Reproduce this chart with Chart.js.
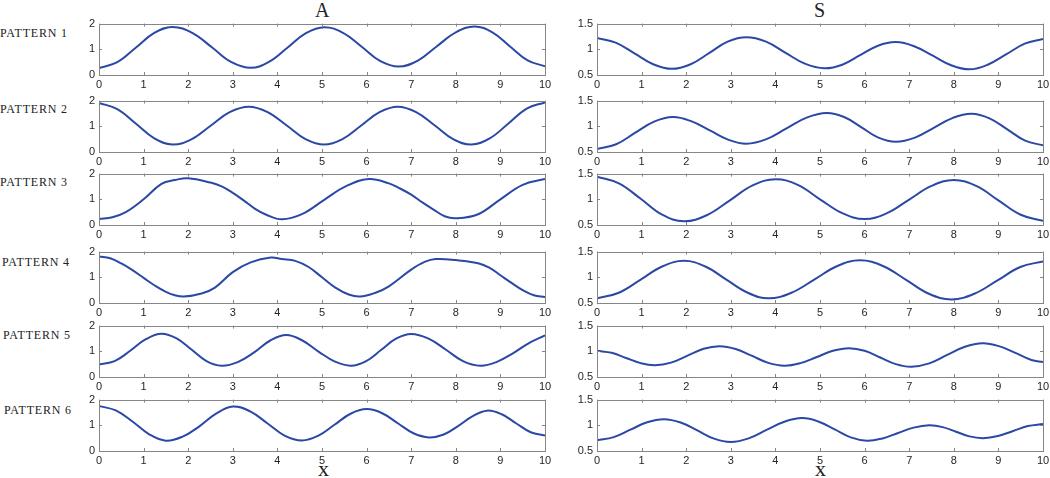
<!DOCTYPE html>
<html lang="en">
<head>
  <meta charset="utf-8" />
  <title>Patterns A and S</title>
  <style>
    body { margin: 0; background: #fff; width: 1050px; height: 478px; position: relative; overflow: hidden; }
    canvas { position: absolute; }
    .lbl { position: absolute; font-family: "Liberation Serif", serif; color: #222; white-space: nowrap; }
    .row { font-size: 12px; line-height: 12px; letter-spacing: 0.8px; }
    .head { font-size: 20px; line-height: 20px; }
    .xlab { font-size: 22px; line-height: 22px; }
  </style>
  <script src="https://cdn.jsdelivr.net/npm/chart.js"></script>
</head>
<body>
  <div class="lbl head" style="left:315px; top:0px;">A</div>
  <div class="lbl head" style="left:814px; top:0px;">S</div>
  <div class="lbl xlab" style="left:318px; top:458px;">x</div>
  <div class="lbl xlab" style="left:815px; top:458px;">x</div>

  <script>
    // x ticks / y ticks for the two columns
    const xTicks = [0, 1, 2, 3, 4, 5, 6, 7, 8, 9, 10];
    const yTicksA = [0, 1, 2];
    const yTicksS = [0.5, 1, 1.5];
    const rowNames = ['PATTERN 1', 'PATTERN 2', 'PATTERN 3', 'PATTERN 4', 'PATTERN 5', 'PATTERN 6'];

    // column A curves
    const A1_x = [0, 0.41, 0.83, 1.24, 1.65, 2.09, 2.53, 2.96, 3.4, 3.81, 4.23, 4.64, 5.05, 5.47, 5.89, 6.3, 6.72, 7.15, 7.57, 8.0, 8.42, 8.82, 9.21, 9.61, 10];
    const A1_y = [0.27, 0.5, 1.07, 1.64, 1.87, 1.64, 1.08, 0.51, 0.28, 0.51, 1.07, 1.63, 1.86, 1.64, 1.1, 0.55, 0.33, 0.56, 1.11, 1.66, 1.89, 1.66, 1.12, 0.57, 0.34];
    const A2_x = [0, 0.41, 0.83, 1.24, 1.65, 2.08, 2.51, 2.93, 3.36, 3.78, 4.21, 4.63, 5.05, 5.46, 5.88, 6.29, 6.7, 7.11, 7.53, 7.94, 8.35, 8.76, 9.18, 9.59, 10];
    const A2_y = [1.91, 1.67, 1.1, 0.53, 0.29, 0.5, 1.03, 1.55, 1.76, 1.55, 1.03, 0.5, 0.29, 0.5, 1.03, 1.55, 1.76, 1.55, 1.03, 0.5, 0.29, 0.53, 1.11, 1.69, 1.93];
    const A3_x = [0, 0.3, 0.6, 1.0, 1.4, 1.7, 2.0, 2.5, 2.75, 3.0, 3.25, 3.5, 3.75, 4.1, 4.55, 5.05, 5.55, 6.05, 6.5, 6.75, 7.0, 7.25, 7.5, 7.75, 8.0, 8.5, 9.0, 9.5, 10];
    const A3_y = [0.23, 0.3, 0.5, 1.0, 1.6, 1.75, 1.82, 1.65, 1.5, 1.25, 0.95, 0.63, 0.4, 0.22, 0.42, 0.98, 1.52, 1.79, 1.62, 1.42, 1.18, 0.88, 0.6, 0.34, 0.26, 0.42, 1.0, 1.56, 1.79];
    const A4_x = [0, 0.25, 0.5, 0.75, 1.0, 1.25, 1.5, 1.7, 1.9, 2.3, 2.6, 3.0, 3.4, 3.85, 4.1, 4.4, 4.7, 5.0, 5.3, 5.6, 5.85, 6.2, 6.5, 7.0, 7.3, 7.55, 8.0, 8.5, 8.75, 9.0, 9.25, 9.5, 9.75, 10];
    const A4_y = [1.81, 1.74, 1.54, 1.28, 0.98, 0.68, 0.43, 0.3, 0.25, 0.37, 0.6, 1.2, 1.58, 1.77, 1.71, 1.64, 1.4, 1.0, 0.6, 0.33, 0.25, 0.4, 0.65, 1.3, 1.6, 1.71, 1.67, 1.55, 1.38, 1.08, 0.78, 0.5, 0.3, 0.23];
    const A5_x = [0, 0.35, 0.7, 1.05, 1.4, 1.74, 2.08, 2.41, 2.75, 3.11, 3.48, 3.84, 4.2, 4.56, 4.93, 5.29, 5.65, 5.99, 6.33, 6.66, 7.0, 7.39, 7.78, 8.16, 8.55, 8.91, 9.28, 9.64, 10];
    const A5_y = [0.49, 0.62, 1.02, 1.47, 1.68, 1.5, 1.06, 0.62, 0.44, 0.58, 0.96, 1.42, 1.63, 1.42, 0.98, 0.6, 0.44, 0.62, 1.06, 1.49, 1.67, 1.49, 1.06, 0.62, 0.44, 0.58, 0.92, 1.32, 1.62];
    const A6_x = [0, 0.375, 0.75, 1.125, 1.5, 1.875, 2.25, 2.625, 3.0, 3.39, 3.78, 4.16, 4.55, 4.91, 5.28, 5.64, 6.0, 6.35, 6.7, 7.05, 7.4, 7.73, 8.05, 8.38, 8.7, 9.03, 9.35, 9.68, 10];
    const A6_y = [1.75, 1.58, 1.15, 0.65, 0.4, 0.56, 0.96, 1.45, 1.73, 1.54, 1.07, 0.6, 0.41, 0.59, 1.02, 1.45, 1.63, 1.47, 1.08, 0.69, 0.53, 0.64, 0.97, 1.36, 1.57, 1.43, 1.08, 0.73, 0.6];

    // column S curves
    const S1_x = [0, 0.42, 0.84, 1.26, 1.68, 2.1, 2.52, 2.93, 3.35, 3.79, 4.23, 4.66, 5.1, 5.5, 5.9, 6.3, 6.7, 7.11, 7.53, 7.94, 8.35, 8.76, 9.18, 9.59, 10];
    const S1_y = [1.22, 1.13, 0.92, 0.71, 0.62, 0.71, 0.93, 1.15, 1.235, 1.15, 0.93, 0.72, 0.63, 0.7, 0.885, 1.07, 1.14, 1.06, 0.875, 0.69, 0.61, 0.7, 0.905, 1.11, 1.2];
    const S2_x = [0, 0.43, 0.85, 1.28, 1.7, 2.11, 2.53, 2.94, 3.35, 3.8, 4.25, 4.7, 5.15, 5.54, 5.93, 6.31, 6.7, 7.13, 7.55, 7.98, 8.4, 8.8, 9.2, 9.6, 10];
    const S2_y = [0.56, 0.65, 0.87, 1.09, 1.18, 1.1, 0.92, 0.74, 0.66, 0.75, 0.96, 1.17, 1.26, 1.18, 0.98, 0.78, 0.7, 0.78, 0.97, 1.165, 1.245, 1.155, 0.94, 0.72, 0.63];
    const S3_x = [0, 0.49, 0.98, 1.46, 1.95, 2.46, 2.98, 3.49, 4.0, 4.5, 5.0, 5.5, 6.0, 6.5, 7.0, 7.5, 8.0, 8.5, 9.0, 9.5, 10];
    const S3_y = [1.44, 1.31, 1.01, 0.7, 0.575, 0.69, 0.98, 1.27, 1.39, 1.28, 1.0, 0.73, 0.615, 0.73, 0.995, 1.26, 1.375, 1.26, 0.98, 0.7, 0.58];
    const S4_x = [0, 0.49, 0.98, 1.46, 1.95, 2.43, 2.9, 3.38, 3.85, 4.36, 4.88, 5.39, 5.9, 6.41, 6.93, 7.44, 7.95, 8.46, 8.98, 9.49, 10];
    const S4_y = [0.59, 0.7, 0.955, 1.21, 1.32, 1.21, 0.955, 0.7, 0.59, 0.7, 0.96, 1.22, 1.33, 1.22, 0.95, 0.68, 0.57, 0.68, 0.94, 1.2, 1.31];
    const S5_x = [0, 0.33, 0.65, 0.98, 1.3, 1.66, 2.03, 2.39, 2.75, 3.11, 3.48, 3.84, 4.2, 4.56, 4.93, 5.29, 5.65, 6.0, 6.35, 6.7, 7.05, 7.45, 7.85, 8.25, 8.65, 9.01, 9.38, 9.74, 10];
    const S5_y = [1.01, 0.97, 0.87, 0.77, 0.73, 0.78, 0.915, 1.05, 1.1, 1.045, 0.91, 0.775, 0.72, 0.77, 0.89, 1.01, 1.06, 1.01, 0.88, 0.75, 0.7, 0.765, 0.93, 1.09, 1.155, 1.1, 0.97, 0.83, 0.79];
    const S6_x = [0, 0.375, 0.75, 1.125, 1.5, 1.875, 2.25, 2.625, 3.0, 3.4, 3.8, 4.2, 4.6, 4.96, 5.33, 5.69, 6.05, 6.4, 6.75, 7.1, 7.45, 7.75, 8.05, 8.35, 8.65, 8.99, 9.33, 9.66, 10];
    const S6_y = [0.71, 0.77, 0.915, 1.06, 1.12, 1.055, 0.9, 0.74, 0.675, 0.745, 0.91, 1.07, 1.14, 1.075, 0.92, 0.765, 0.7, 0.745, 0.85, 0.955, 1.0, 0.965, 0.875, 0.785, 0.75, 0.79, 0.89, 0.985, 1.025];

    const colA = [[A1_x, A1_y], [A2_x, A2_y], [A3_x, A3_y], [A4_x, A4_y], [A5_x, A5_y], [A6_x, A6_y]];
    const colS = [[S1_x, S1_y], [S2_x, S2_y], [S3_x, S3_y], [S4_x, S4_y], [S5_x, S5_y], [S6_x, S6_y]];

    // layout of the grid (plot area in page pixels)
    const rowTops = [21, 98, 171, 249, 323, 397];
    const plotH = 54, plotW = 446;
    const colLeft = [99, 597];
    const rowLabelTop = [27, 103, 176, 256, 329, 404];
    const rowLabelLeft = [0, 0, 0, 2, 3, 4];
    const PAD_L = 34, PAD_T = 8, PAD_R = 10, PAD_B = 18;

    const lineColor = '#2b48a5';
    const frameColor = '#868686';
    const tickFont = { family: '"Liberation Sans", Arial, sans-serif', size: 11 };

    // MATLAB-like box with inward ticks
    const boxPlugin = {
      id: 'box',
      afterDatasetsDraw(chart) {
        const { ctx, chartArea: a, scales } = chart;
        ctx.save();
        ctx.strokeStyle = frameColor;
        ctx.lineWidth = 1;
        ctx.strokeRect(Math.round(a.left) + 0.5, Math.round(a.top) + 0.5, Math.round(a.right - a.left), Math.round(a.bottom - a.top));
        ctx.beginPath();
        scales.x.ticks.forEach(t => {
          const px = Math.round(scales.x.getPixelForValue(t.value)) + 0.5;
          ctx.moveTo(px, a.bottom); ctx.lineTo(px, a.bottom - 3);
          ctx.moveTo(px, a.top); ctx.lineTo(px, a.top + 3);
        });
        scales.y.ticks.forEach(t => {
          const py = Math.round(scales.y.getPixelForValue(t.value)) + 0.5;
          ctx.moveTo(a.left, py); ctx.lineTo(a.left + 3, py);
          ctx.moveTo(a.right, py); ctx.lineTo(a.right - 3, py);
        });
        ctx.stroke();
        ctx.restore();
      }
    };

    function makePanel(xs, ys, left, top, yMin, yMax, yStep) {
      const cv = document.createElement('canvas');
      cv.width = PAD_L + plotW + PAD_R;
      cv.height = PAD_T + plotH + PAD_B;
      cv.style.left = (left - PAD_L) + 'px';
      cv.style.top = (top - PAD_T) + 'px';
      document.body.appendChild(cv);
      new Chart(cv, {
        type: 'line',
        data: {
          datasets: [{
            data: xs.map((x, i) => ({ x: x, y: ys[i] })),
            borderColor: lineColor,
            borderWidth: 2,
            pointRadius: 0,
            tension: 0.4,
            fill: false
          }]
        },
        options: {
          responsive: false,
          animation: false,
          devicePixelRatio: 1,
          layout: { padding: { top: PAD_T, right: PAD_R, left: 0, bottom: 0 } },
          plugins: { legend: { display: false }, tooltip: { enabled: false } },
          scales: {
            x: {
              type: 'linear', min: xTicks[0], max: xTicks[xTicks.length - 1],
              afterBuildTicks: s => { s.ticks = xTicks.map(v => ({ value: v })); },
              ticks: { font: tickFont, color: '#262626', padding: 3, maxRotation: 0, autoSkip: false },
              grid: { display: false, drawTicks: false },
              border: { display: false },
              afterFit: s => { s.height = PAD_B; }
            },
            y: {
              min: yMin, max: yMax,
              ticks: { stepSize: yStep, font: tickFont, color: '#262626', padding: 4, callback: v => String(v) },
              grid: { display: false, drawTicks: false },
              border: { display: false },
              afterFit: s => { s.width = PAD_L; }
            }
          }
        },
        plugins: [boxPlugin]
      });
    }

    rowNames.forEach((name, r) => {
      const d = document.createElement('div');
      d.className = 'lbl row';
      d.style.left = rowLabelLeft[r] + 'px';
      d.style.top = rowLabelTop[r] + 'px';
      d.textContent = name;
      document.body.appendChild(d);
      makePanel(colA[r][0], colA[r][1], colLeft[0], rowTops[r], yTicksA[0], yTicksA[2], 1);
      makePanel(colS[r][0], colS[r][1], colLeft[1], rowTops[r], yTicksS[0], yTicksS[2], 0.5);
    });
  </script>
</body>
</html>
